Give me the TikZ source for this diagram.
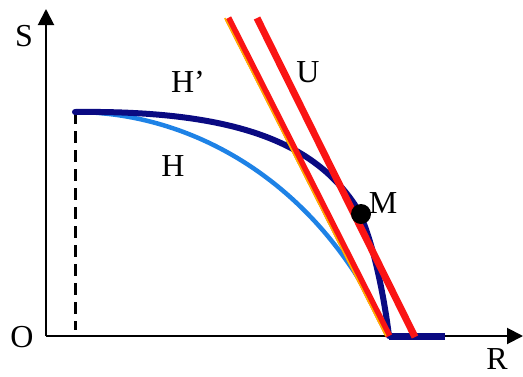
\documentclass[tikz,border=0pt]{standalone}
\usepackage{fontspec}
\setmainfont{Liberation Serif}
\usetikzlibrary{arrows.meta,positioning,calc}
\definecolor{hdark}{RGB}{10,10,130}
\definecolor{hlight}{RGB}{30,130,230}
\definecolor{ured}{RGB}{250,20,20}
\tikzset{
  axisline/.style={-{Triangle[length=16pt,width=16pt]},line width=2pt},
  curvelabel/.style={font=\fontsize{32}{36}\selectfont,inner sep=0pt},
  hprime/.style={draw=hdark,line width=6pt,line cap=round},
  hcurve/.style={draw=hlight,line width=4.5pt,line cap=round},
  uline/.style={draw=ured,line width=7pt},
  edgeline/.style={draw=orange!60!yellow,line width=1.5pt}
}

\begin{document}
\begin{tikzpicture}[x=1pt,y=-1pt]
  \useasboundingbox (0,0) rectangle (523,376);
  % axes
  \coordinate (O) at (46,336);
  \coordinate (Stop) at (46,9);
  \coordinate (Rend) at (523,336);
  \draw[axisline] (O)--(Stop);
  \draw[axisline] (O)--(Rend);
  \node[curvelabel] (slab) at (24,36) {S};
  \node[curvelabel] (olab) at (22,337) {O};
  \node[curvelabel] (rlab) at (497,359) {R};
  % curves
  \coordinate (start) at (75,112);
  \coordinate (foot) at (75,330);
  \coordinate (bend) at (355,205);
  \coordinate (end) at (389,336);
  \coordinate (flat) at (445,336);
  \draw[dashed,line width=3pt,dash pattern=on 12pt off 7pt] (start)--(foot);
  \draw[hcurve] (start) .. controls (190,112) and (320,180) .. (end);
  \draw[hprime] (start) .. controls (240,110) and (315,145) .. (bend)
    .. controls (368,225) and (382,280) .. (end);
  \draw[draw=hdark,line width=7pt] (end)--(flat);
  % tangent lines
  \coordinate (u1top) at (228,18);
  \coordinate (u2top) at (257,18);
  \coordinate (u2bot) at (415,337);
  \draw[uline] (u1top)--(end);
  \draw[edgeline] ($(u1top)+(-3.2,0)$)--($(end)+(-3.2,0)$);
  \draw[uline] (u2top)--(u2bot);
  \node[circle,fill=black,minimum size=20pt,inner sep=0pt] (mdot) at (361,214) {};
  \node[curvelabel] (mlab) at (383,203) {M};
  \node[curvelabel] (hplab) at (188,82) {H’};
  \node[curvelabel] (hlab) at (173,166) {H};
  \node[curvelabel] (ulab) at (308,72) {U};
\end{tikzpicture}
\end{document}
